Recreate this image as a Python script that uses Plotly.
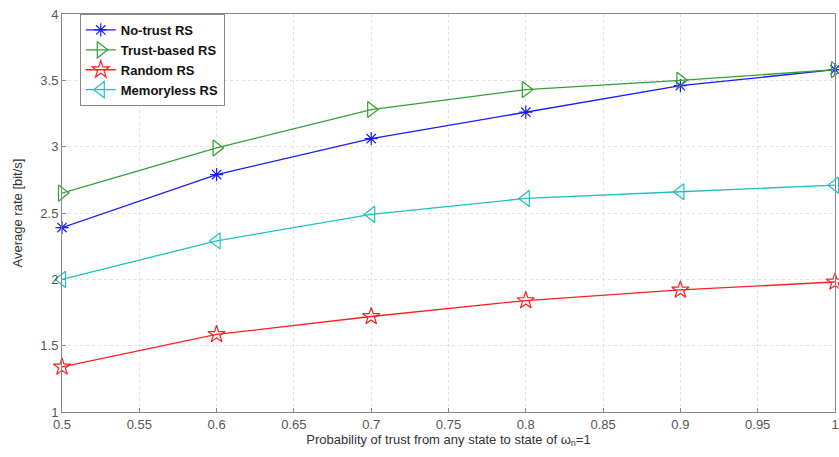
import plotly.graph_objects as go

x_vals = [0.5, 0.6, 0.7, 0.8, 0.9, 1.0]
no_trust = [2.39, 2.79, 3.06, 3.26, 3.46, 3.58]
trust_based = [2.65, 2.99, 3.28, 3.43, 3.50, 3.58]
random_rs = [1.34, 1.585, 1.72, 1.84, 1.92, 1.98]
memoryless = [2.00, 2.29, 2.49, 2.61, 2.66, 2.71]

x_ticks = [0.5, 0.55, 0.6, 0.65, 0.7, 0.75, 0.8, 0.85, 0.9, 0.95, 1.0]
x_tick_labels = ["0.5", "0.55", "0.6", "0.65", "0.7", "0.75", "0.8", "0.85", "0.9", "0.95", "1"]
y_ticks = [1, 1.5, 2, 2.5, 3, 3.5, 4]
y_tick_labels = ["1", "1.5", "2", "2.5", "3", "3.5", "4"]

series = [
    ("No-trust RS", no_trust, "#1a1aff", "asterisk-open", 11),
    ("Trust-based RS", trust_based, "#33a033", "triangle-right-open", 14),
    ("Random RS", random_rs, "#ff2020", "star-open", 13),
    ("Memoryless RS", memoryless, "#20c0c0", "triangle-left-open", 14),
]

fig = go.Figure()
for name, vals, color, sym, size in series:
    fig.add_trace(go.Scatter(
        x=x_vals, y=vals, name=name, mode="lines+markers",
        line=dict(color=color, width=1.3),
        marker=dict(symbol=sym, size=size, color=color, line=dict(width=1.2, color=color)),
        cliponaxis=False,
    ))

axis_common = dict(
    showline=True, linecolor="#888888", linewidth=1, mirror=True,
    ticks="inside", ticklen=4, tickcolor="#888888",
    showgrid=True, gridcolor="#e2e2e2", griddash="dot", gridwidth=1,
    zeroline=False, tickfont=dict(family="Liberation Sans, Arial", size=13, color="#555555"),
    automargin=False,
)

fig.update_layout(
    width=839, height=457,
    margin=dict(l=62, r=4, t=14, b=45),
    paper_bgcolor="white", plot_bgcolor="white",
    xaxis=dict(range=[0.5, 1.0], tickvals=x_ticks, ticktext=x_tick_labels,
               title=dict(text="Probability of trust from any state to state of ω<sub>n</sub>=1",
                          font=dict(family="Liberation Sans, Arial", size=13, color="#333333"), standoff=2),
               **axis_common),
    yaxis=dict(range=[1, 4], tickvals=y_ticks, ticktext=y_tick_labels,
               title=dict(text="Average rate [bit/s]",
                          font=dict(family="Liberation Sans, Arial", size=13, color="#333333"), standoff=14),
               **axis_common),
    legend=dict(x=0.023, y=1.0, xanchor="left", yanchor="top",
                bordercolor="#888888", borderwidth=1, bgcolor="white",
                font=dict(family="Liberation Sans, Arial", size=13, color="#111111", weight="bold"),
                tracegroupgap=0, itemwidth=30),
    showlegend=True,
)

fig.write_html("out.html", config={"displayModeBar": False})
with open("out.html", "r", encoding="utf-8") as f:
    html = f.read()
html = html.replace("<head>", "<head><style>html,body{margin:0;padding:0;overflow:hidden;}</style>", 1)
with open("out.html", "w", encoding="utf-8") as f:
    f.write(html)
